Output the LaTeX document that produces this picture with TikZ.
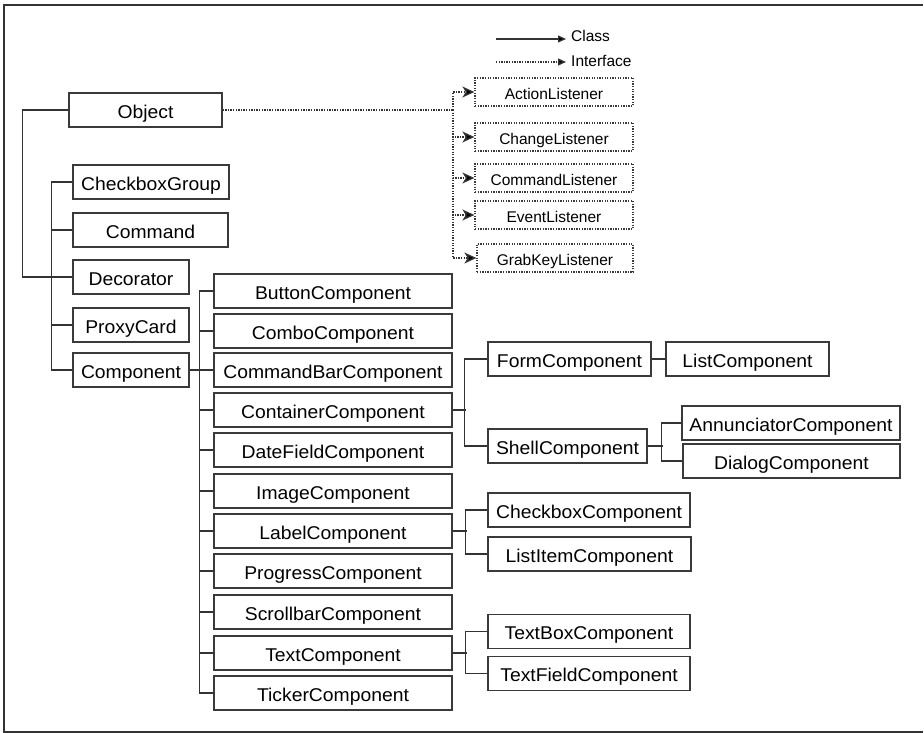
\documentclass[tikz,border=0pt]{standalone}
\usepackage{fontspec}
\setmainfont{Liberation Sans}
\newfontfamily\clsfont{Liberation Sans}[FakeStretch=1.045]
\usetikzlibrary{arrows.meta}
\definecolor{linegray}{HTML}{333333}
\definecolor{boxgray}{HTML}{3A3A3A}
\tikzset{
  cls/.style={draw=boxgray, line width=1.2pt, inner sep=0pt, minimum height=34pt,
    text height=16.3pt, text depth=0pt,
    font=\clsfont\fontsize{18.5}{20}\selectfont, text=black},
  ifc/.style={draw=boxgray, line width=1.3pt, dash pattern=on 1.3pt off 1.3pt,
    inner sep=0pt, minimum height=28pt, minimum width=158pt,
    text height=15pt, text depth=0pt,
    font=\fontsize{15.5}{17}\selectfont, text=black},
  link/.style={draw=linegray, line width=1.2pt},
  ilink/.style={draw=linegray, line width=1.3pt, dash pattern=on 1.3pt off 1.3pt},
  itip/.style={-{Stealth[length=12pt,width=11pt,inset=3.5pt,fill=black]}},
  legtip/.style={-{Triangle[length=8pt,width=7pt,fill=black]}},
  legtxt/.style={font=\fontsize{15.5}{17}\selectfont, inner sep=0pt, anchor=base west}
}
\begin{document}
\begin{tikzpicture}[x=1pt, y=-1pt]
\useasboundingbox (0,0) rectangle (924,733);
% outer frame (open on the right)
\draw[linegray, line width=1.3pt] (923,5) -- (4,5) -- (4,732) -- (923,732);

% legend
\coordinate (lc0) at (496,39); \coordinate (lc1) at (566,39);
\coordinate (li0) at (496,62); \coordinate (li1) at (566,62);
\draw[link, legtip] (lc0) -- (lc1);
\draw[ilink, legtip] (li0) -- (li1);
\node[legtxt] (lclass) at (571,42) {Class};
\node[legtxt] (liface) at (571,66.5) {Interface};

% root level
\node[cls, minimum width=153pt] (Object) at (145.5,110) {Object};
\node[cls, minimum width=156pt] (CheckboxGroup) at (151,182) {CheckboxGroup};
\node[cls, minimum width=155pt] (Command) at (150.5,230) {Command};
\node[cls, minimum width=116pt] (Decorator) at (131,277) {Decorator};
\node[cls, minimum width=116pt] (ProxyCard) at (131,325) {ProxyCard};
\node[cls, minimum width=116pt] (Component) at (131,370) {Component};

% component subclasses
\foreach \n/\t/\y in {Button/ButtonComponent/291, Combo/ComboComponent/331,
  CommandBar/CommandBarComponent/370, Container/ContainerComponent/410,
  DateField/DateFieldComponent/450, Image/ImageComponent/491,
  Label/LabelComponent/531, Progress/ProgressComponent/571,
  Scrollbar/ScrollbarComponent/612, Text/TextComponent/653,
  Ticker/TickerComponent/693}
  \node[cls, minimum width=238pt] (\n) at (333,\y) {\t};

% third level
\node[cls, minimum width=163pt] (Form) at (569.5,359) {FormComponent};
\node[cls, minimum width=163pt] (List) at (747.5,359) {ListComponent};
\node[cls, minimum width=159pt] (Shell) at (567.5,446) {ShellComponent};
\node[cls, minimum width=218pt] (Annunciator) at (791,423) {AnnunciatorComponent};
\node[cls, minimum width=217pt] (Dialog) at (791.5,461) {DialogComponent};
\node[cls, minimum width=202pt] (Checkbox) at (589,510) {CheckboxComponent};
\node[cls, minimum width=203pt] (ListItem) at (589.5,554) {ListItemComponent};
\node[cls, minimum width=202pt] (TextBox) at (589,631.5) {TextBoxComponent};
\node[cls, minimum width=202pt] (TextField) at (589,673.5) {TextFieldComponent};

% interfaces
\node[ifc] (ActionL) at (554,92) {ActionListener};
\node[ifc] (ChangeL) at (554,137) {ChangeListener};
\node[ifc] (CommandL) at (554,178) {CommandListener};
\node[ifc] (EventL) at (554,215) {EventListener};
\node[ifc, minimum width=156pt] (GrabKeyL) at (555,258) {GrabKeyListener};

% class links: Object -> Decorator
\draw[link] (Object.west) -| ([xshift=-50pt]Decorator.west) -- (Decorator.west);
% Decorator's bus
\draw[link] (CheckboxGroup.west) -- ++(-21,0) |- (Component.west);
\foreach \n in {Command, Decorator, ProxyCard}
  \draw[link] (\n.west) -- ++(-21,0);
% Component's bus
\draw[link] (Component.east) -- (CommandBar.west);
\draw[link] (Button.west) -- ++(-14,0) |- (Ticker.west);
\foreach \n in {Combo, Container, DateField, Image, Label, Progress, Scrollbar, Text}
  \draw[link] (\n.west) -- ++(-14,0);
% ContainerComponent's bus
\draw[link] (Container.east) -- ++(13,0);
\draw[link] (Form.west) -- ++(-23,0) |- (Shell.west);
\draw[link] (Form.east) -- (List.west);
% ShellComponent's bus
\draw[link] (Shell.east) -- ++(15,0);
\draw[link] (Annunciator.west) -- ++(-20,0) |- (Dialog.west);
% LabelComponent's bus
\draw[link] (Label.east) -- ++(14,0);
\draw[link] (Checkbox.west) -- ++(-22,0) |- (ListItem.west);
% TextComponent's bus
\draw[link] (Text.east) -- ++(14,0);
\draw[link] (TextBox.west) -- ++(-22,0) |- (TextField.west);

% interface links
\coordinate (ibus) at (453,110);
\draw[ilink] (Object.east) -- (ibus);
\foreach \n in {ActionL, ChangeL, CommandL, EventL, GrabKeyL}
  \draw[ilink, itip] (ibus) |- (\n.west);
\end{tikzpicture}
\end{document}
